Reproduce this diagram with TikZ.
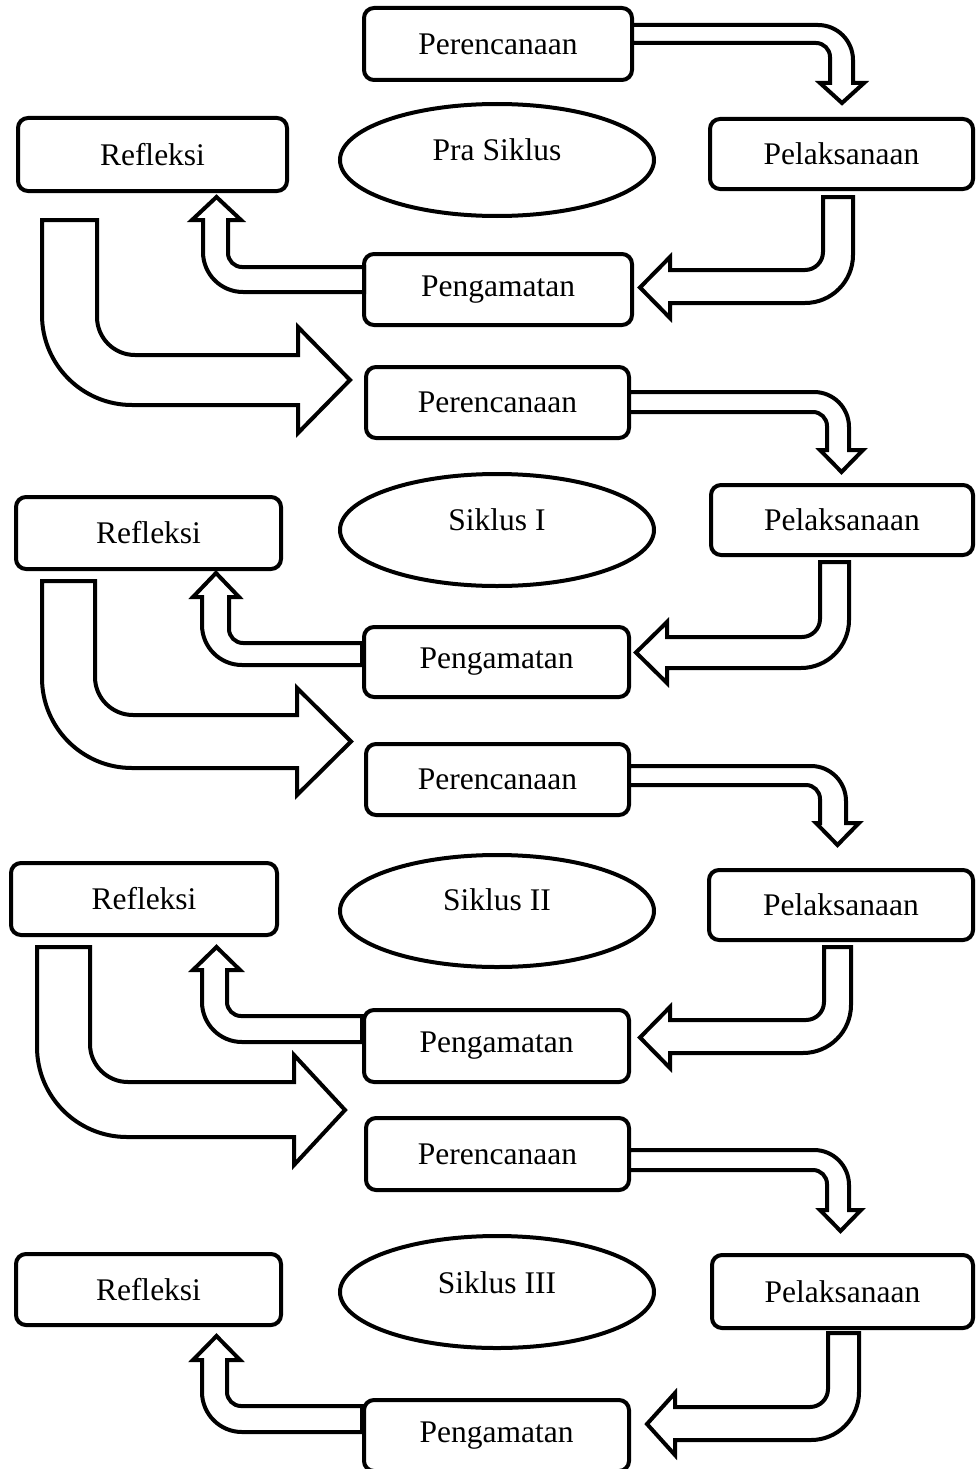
\documentclass[tikz,border=0pt]{standalone}
\usepackage{fontspec}
\setmainfont{Liberation Serif}
\usetikzlibrary{shapes.geometric}
\tikzset{
  box/.style={draw, line width=4pt, rounded corners=10pt, fill=white, inner sep=0pt,
    font=\fontsize{31.5}{36}\selectfont},
  ell/.style={draw, line width=4pt, ellipse, fill=white, inner sep=0pt},
  lbl/.style={inner sep=0pt, font=\fontsize{31.5}{36}\selectfont},
  blk/.style={draw, line width=4pt, fill=white, line join=miter}
}
% Perencanaan -> Pelaksanaan (right, then down)
\newcommand\arrA[9]{%
\draw[blk] (#1,#2) -- ({#5-35},#2) .. controls ({#5-15.7},#2) and (#5,{#2+15.7}) .. (#5,{#2+35})
 -- (#5,#6) -- (#8,#6) -- ({(#7+#8)/2},#9) -- (#7,#6) -- (#4,#6) -- (#4,{#3+14})
 .. controls (#4,{#3+6.3}) and ({#4-6.3},#3) .. ({#4-14},#3) -- (#1,#3) -- cycle;}
% Pelaksanaan -> Pengamatan (down, then left)
\newcommand\arrB[9]{%
\draw[blk] (#1,#3) -- (#2,#3) -- (#2,{#5-48}) .. controls (#2,{#5-21.5}) and ({#2-21.5},#5) .. ({#2-48},#5)
 -- (#6,#5) -- (#6,#8) -- (#9,{(#7+#8)/2}) -- (#6,#7) -- (#6,#4) -- ({#1-18},#4)
 .. controls ({#1-8.1},#4) and (#1,{#4-8.1}) .. (#1,{#4-18}) -- cycle;}
% Pengamatan -> Refleksi (left, then up)
\newcommand\arrC[9]{%
\draw[blk] (#1,#2) -- ({#5+14},#2) .. controls ({#5+6.3},#2) and (#5,{#2-6.3}) .. (#5,{#2-14})
 -- (#5,#6) -- (#8,#6) -- ({(#7+#8)/2},#9) -- (#7,#6) -- (#4,#6) -- (#4,{#3-40})
 .. controls (#4,{#3-17.9}) and ({#4+17.9},#3) .. ({#4+40},#3) -- (#1,#3) -- cycle;}
% Refleksi -> next Perencanaan (down, then right)
\newcommand\arrD[9]{%
\draw[blk] (#1,#3) -- (#2,#3) -- (#2,{#4-38}) .. controls (#2,{#4-17}) and ({#2+17},#4) .. ({#2+38},#4)
 -- (#6,#4) -- (#6,#7) -- (#9,{(#7+#8)/2}) -- (#6,#8) -- (#6,#5) -- ({#1+90},#5)
 .. controls ({#1+40.3},#5) and (#1,{#5-40.3}) .. (#1,{#5-90}) -- cycle;}
\begin{document}
\begin{tikzpicture}[x=1pt,y=-1pt]
\useasboundingbox[fill=white] (0,0) rectangle (975,1469);
% ---------- Pra Siklus ----------
\node[box, minimum width=268pt, minimum height=72pt] (per1) at (498,44) {Perencanaan};
\node[box, minimum width=263pt, minimum height=70pt] (pel1) at (841.5,154) {Pelaksanaan};
\node[box, minimum width=269pt, minimum height=73pt] (ref1) at (152.5,154.5) {Refleksi};
\node[box, minimum width=268pt, minimum height=71pt] (pen1) at (498,289.5) {Pengamatan};
\node[ell, minimum width=314pt, minimum height=112pt] (ell1) at (497,160) {};
\node[lbl] (t1) at (497,150) {Pra Siklus};
% ---------- Siklus I ----------
\node[box, minimum width=263pt, minimum height=71pt] (per2) at (497.5,402.5) {Perencanaan};
\node[box, minimum width=262pt, minimum height=70pt] (pel2) at (842,520) {Pelaksanaan};
\node[box, minimum width=265pt, minimum height=72pt] (ref2) at (148.5,533) {Refleksi};
\node[box, minimum width=265pt, minimum height=70pt] (pen2) at (496.5,662) {Pengamatan};
\node[ell, minimum width=314pt, minimum height=112pt] (ell2) at (497,530) {};
\node[lbl] (t2) at (497,520) {Siklus I};
% ---------- Siklus II ----------
\node[box, minimum width=263pt, minimum height=71pt] (per3) at (497.5,779.5) {Perencanaan};
\node[box, minimum width=264pt, minimum height=70pt] (pel3) at (841,905) {Pelaksanaan};
\node[box, minimum width=266pt, minimum height=72pt] (ref3) at (144,899) {Refleksi};
\node[box, minimum width=265pt, minimum height=72pt] (pen3) at (496.5,1046) {Pengamatan};
\node[ell, minimum width=314pt, minimum height=112pt] (ell3) at (497,911) {};
\node[lbl] (t3) at (497,900) {Siklus II};
% ---------- Siklus III ----------
\node[box, minimum width=263pt, minimum height=72pt] (per4) at (497.5,1154) {Perencanaan};
\node[box, minimum width=261pt, minimum height=73pt] (pel4) at (842.5,1291.5) {Pelaksanaan};
\node[box, minimum width=265pt, minimum height=71pt] (ref4) at (148.5,1289.5) {Refleksi};
\node[box, minimum width=265pt, minimum height=71pt] (pen4) at (496.5,1435.5) {Pengamatan};
\node[ell, minimum width=314pt, minimum height=112pt] (ell4) at (497,1292) {};
\node[lbl] (t4) at (497,1283) {Siklus III};
% ---------- block arrows ----------
\arrA{632}{25}{43}{830}{853}{83}{820}{864}{103}
\arrA{629}{392}{412}{827}{849}{450}{820}{863}{472}
\arrA{629}{766}{785}{820}{846}{823}{816}{859}{845}
\arrA{629}{1150}{1170}{827}{849}{1210}{820}{861}{1231}
\arrB{823}{853}{197}{270}{303}{670}{257}{318}{640}
\arrB{820}{849}{562}{637}{668}{667}{622}{683}{636}
\arrB{824}{851}{947}{1020}{1053}{670}{1007}{1068}{640}
\arrB{828}{859}{1333}{1407}{1440}{675}{1393}{1455}{647}
\arrC{364}{267}{292}{203}{228}{220}{192}{241}{197}
\arrC{362}{643}{665}{202}{229}{597}{193}{239}{573}
\arrC{362}{1016}{1042}{202}{227}{970}{193}{240}{947}
\arrC{362}{1406}{1432}{202}{227}{1360}{193}{240}{1336}
\arrD{42}{97}{220}{355}{405}{298}{327}{433}{350}
\arrD{42}{95}{581}{715}{768}{297}{688}{795}{351}
\arrD{37}{90}{947}{1082}{1137}{294}{1055}{1165}{345}
\end{tikzpicture}
\end{document}
